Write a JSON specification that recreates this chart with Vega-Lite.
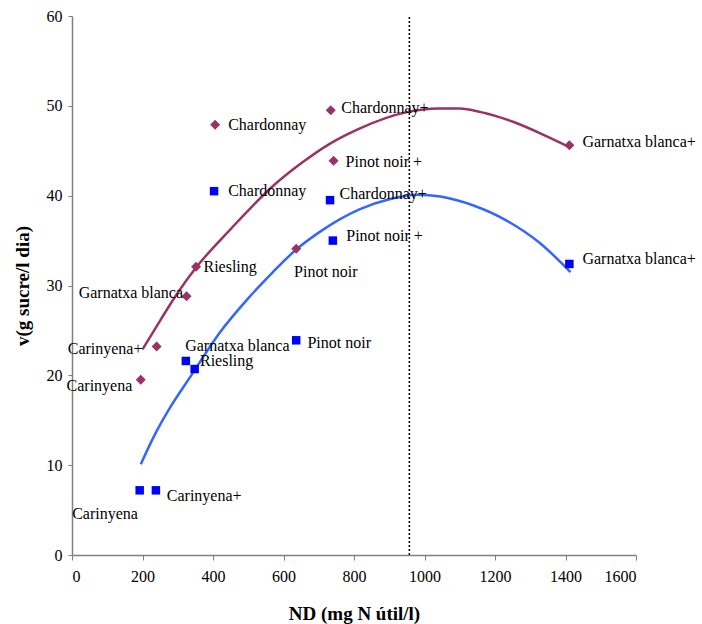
{
  "$schema": "https://vega.github.io/schema/vega-lite/v6.json",
  "autosize": {"type": "none"},
  "width": 564,
  "height": 539,
  "padding": {"left": 72, "top": 16, "right": 66, "bottom": 69},
  "background": "white",
  "config": {
    "view": {"stroke": null},
    "font": "Liberation Serif",
    "style": {
      "guide-label": {"font": "Liberation Serif", "fontSize": 16, "fill": "#000000"},
      "guide-title": {"font": "Liberation Serif", "fontSize": 19, "fontWeight": "bold", "fill": "#000000"}
    },
    "axis": {
      "grid": false,
      "domainColor": "#808080",
      "domainWidth": 1.5,
      "tickColor": "#808080",
      "tickWidth": 1,
      "labelFont": "Liberation Serif",
      "labelFontSize": 16,
      "labelColor": "#000000",
      "titleFont": "Liberation Serif",
      "titleFontSize": 19,
      "titleFontWeight": "bold",
      "titleColor": "#000000"
    }
  },
  "datasets": {
    "points": [
      {"serie": "A", "nom": "Carinyena", "nd": 195, "v": 19.5},
      {"serie": "A", "nom": "Carinyena+", "nd": 240, "v": 23.2},
      {"serie": "A", "nom": "Garnatxa blanca", "nd": 325, "v": 28.8},
      {"serie": "A", "nom": "Riesling", "nd": 352, "v": 32.1},
      {"serie": "A", "nom": "Chardonnay", "nd": 406, "v": 47.9},
      {"serie": "A", "nom": "Pinot noir", "nd": 636, "v": 34.1},
      {"serie": "A", "nom": "Chardonnay+", "nd": 734, "v": 49.5},
      {"serie": "A", "nom": "Pinot noir +", "nd": 742, "v": 43.9},
      {"serie": "A", "nom": "Garnatxa blanca+", "nd": 1411, "v": 45.6},
      {"serie": "B", "nom": "Carinyena", "nd": 192, "v": 7.2},
      {"serie": "B", "nom": "Carinyena+", "nd": 238, "v": 7.2},
      {"serie": "B", "nom": "Garnatxa blanca", "nd": 323, "v": 21.6},
      {"serie": "B", "nom": "Riesling", "nd": 348, "v": 20.7},
      {"serie": "B", "nom": "Chardonnay", "nd": 403, "v": 40.5},
      {"serie": "B", "nom": "Pinot noir", "nd": 636, "v": 23.9},
      {"serie": "B", "nom": "Chardonnay+", "nd": 732, "v": 39.5},
      {"serie": "B", "nom": "Pinot noir +", "nd": 740, "v": 35.0},
      {"serie": "B", "nom": "Garnatxa blanca+", "nd": 1411, "v": 32.4}
    ],
    "trend": [
      {"serie": "A", "nd": 200, "v": 22.9},
      {"serie": "A", "nd": 250, "v": 26.1},
      {"serie": "A", "nd": 300, "v": 29.2},
      {"serie": "A", "nd": 352, "v": 32.0},
      {"serie": "A", "nd": 448, "v": 36.2},
      {"serie": "A", "nd": 571, "v": 41.1},
      {"serie": "A", "nd": 650, "v": 43.6},
      {"serie": "A", "nd": 732, "v": 45.8},
      {"serie": "A", "nd": 817, "v": 47.5},
      {"serie": "A", "nd": 950, "v": 49.3},
      {"serie": "A", "nd": 1040, "v": 49.7},
      {"serie": "A", "nd": 1100, "v": 49.7},
      {"serie": "A", "nd": 1160, "v": 49.3},
      {"serie": "A", "nd": 1253, "v": 48.2},
      {"serie": "A", "nd": 1347, "v": 46.6},
      {"serie": "A", "nd": 1411, "v": 45.4},
      {"serie": "B", "nd": 195, "v": 10.1},
      {"serie": "B", "nd": 231, "v": 13.1},
      {"serie": "B", "nd": 278, "v": 16.4},
      {"serie": "B", "nd": 335, "v": 19.8},
      {"serie": "B", "nd": 420, "v": 24.8},
      {"serie": "B", "nd": 496, "v": 28.4},
      {"serie": "B", "nd": 570, "v": 31.5},
      {"serie": "B", "nd": 636, "v": 34.0},
      {"serie": "B", "nd": 704, "v": 36.0},
      {"serie": "B", "nd": 817, "v": 38.5},
      {"serie": "B", "nd": 900, "v": 39.6},
      {"serie": "B", "nd": 980, "v": 40.1},
      {"serie": "B", "nd": 1045, "v": 39.9},
      {"serie": "B", "nd": 1139, "v": 38.9},
      {"serie": "B", "nd": 1234, "v": 37.2},
      {"serie": "B", "nd": 1328, "v": 34.7},
      {"serie": "B", "nd": 1414, "v": 31.5}
    ],
    "labels": [
      {"text": "Chardonnay", "side": "left", "nd": 443, "v": 47.9},
      {"text": "Chardonnay+", "side": "left", "nd": 764, "v": 49.8},
      {"text": "Pinot noir +", "side": "left", "nd": 776, "v": 43.8},
      {"text": "Garnatxa blanca+", "side": "left", "nd": 1448, "v": 46.0},
      {"text": "Riesling", "side": "left", "nd": 373, "v": 32.1},
      {"text": "Garnatxa blanca", "side": "right", "nd": 315, "v": 29.2},
      {"text": "Pinot noir", "side": "left", "nd": 630, "v": 31.5},
      {"text": "Carinyena+", "side": "right", "nd": 200, "v": 22.9},
      {"text": "Carinyena", "side": "right", "nd": 171, "v": 18.8},
      {"text": "Chardonnay", "side": "left", "nd": 443, "v": 40.5},
      {"text": "Chardonnay+", "side": "left", "nd": 759, "v": 40.2},
      {"text": "Pinot noir +", "side": "left", "nd": 778, "v": 35.5},
      {"text": "Garnatxa blanca+", "side": "left", "nd": 1448, "v": 32.9},
      {"text": "Pinot noir", "side": "left", "nd": 668, "v": 23.6},
      {"text": "Riesling", "side": "left", "nd": 363, "v": 21.6},
      {"text": "Garnatxa blanca", "side": "left", "nd": 321, "v": 23.3},
      {"text": "Carinyena+", "side": "left", "nd": 269, "v": 6.6},
      {"text": "Carinyena", "side": "right", "nd": 187, "v": 4.6}
    ],
    "limit": [
      {"nd": 957, "v": 0},
      {"nd": 957, "v": 60}
    ]
  },
  "encoding": {
    "x": {
      "field": "nd",
      "type": "quantitative",
      "scale": {"domain": [0, 1600], "nice": false, "zero": false},
      "axis": {
        "title": "ND (mg N útil/l)",
        "format": "d",
        "labelFont": "Liberation Serif",
        "titleFont": "Liberation Serif",
        "values": [0, 200, 400, 600, 800, 1000, 1200, 1400, 1600],
        "tickSize": 5,
        "labelPadding": 8,
        "titlePadding": 20,
        "encode": {"labels": {"update": {"font": {"value": "Liberation Serif"}}}}
      }
    },
    "y": {
      "field": "v",
      "type": "quantitative",
      "scale": {"domain": [0, 60], "nice": false, "zero": false},
      "axis": {
        "title": "v(g sucre/l dia)",
        "format": "d",
        "labelFont": "Liberation Serif",
        "titleFont": "Liberation Serif",
        "values": [0, 10, 20, 30, 40, 50, 60],
        "tickSize": 4,
        "labelPadding": 6,
        "titlePadding": 14,
        "encode": {"labels": {"update": {"font": {"value": "Liberation Serif"}}}}
      }
    }
  },
  "layer": [
    {
      "data": {"name": "limit"},
      "mark": {"type": "line", "color": "#000000", "strokeWidth": 1.5, "strokeDash": [2, 2]}
    },
    {
      "data": {"name": "trend"},
      "mark": {"type": "line", "strokeWidth": 2.5, "interpolate": "monotone"},
      "encoding": {
        "detail": {"field": "serie"},
        "color": {
          "field": "serie",
          "type": "nominal",
          "scale": {"domain": ["A", "B"], "range": ["#993366", "#3366FF"]},
          "legend": null
        }
      }
    },
    {
      "data": {"name": "points"},
      "transform": [{"filter": "datum.serie === 'A'"}],
      "mark": {"type": "point", "shape": "diamond", "filled": true, "size": 100, "color": "#993366", "opacity": 1}
    },
    {
      "data": {"name": "points"},
      "transform": [{"filter": "datum.serie === 'B'"}],
      "mark": {"type": "point", "shape": "square", "filled": true, "size": 72, "color": "#0000FF", "opacity": 1}
    },
    {
      "data": {"name": "labels"},
      "transform": [{"filter": "datum.side === 'left'"}],
      "mark": {"type": "text", "align": "left", "baseline": "middle", "fontSize": 16, "font": "Liberation Serif", "color": "#000000"},
      "encoding": {"text": {"field": "text"}}
    },
    {
      "data": {"name": "labels"},
      "transform": [{"filter": "datum.side === 'right'"}],
      "mark": {"type": "text", "align": "right", "baseline": "middle", "fontSize": 16, "font": "Liberation Serif", "color": "#000000"},
      "encoding": {"text": {"field": "text"}}
    }
  ]
}
